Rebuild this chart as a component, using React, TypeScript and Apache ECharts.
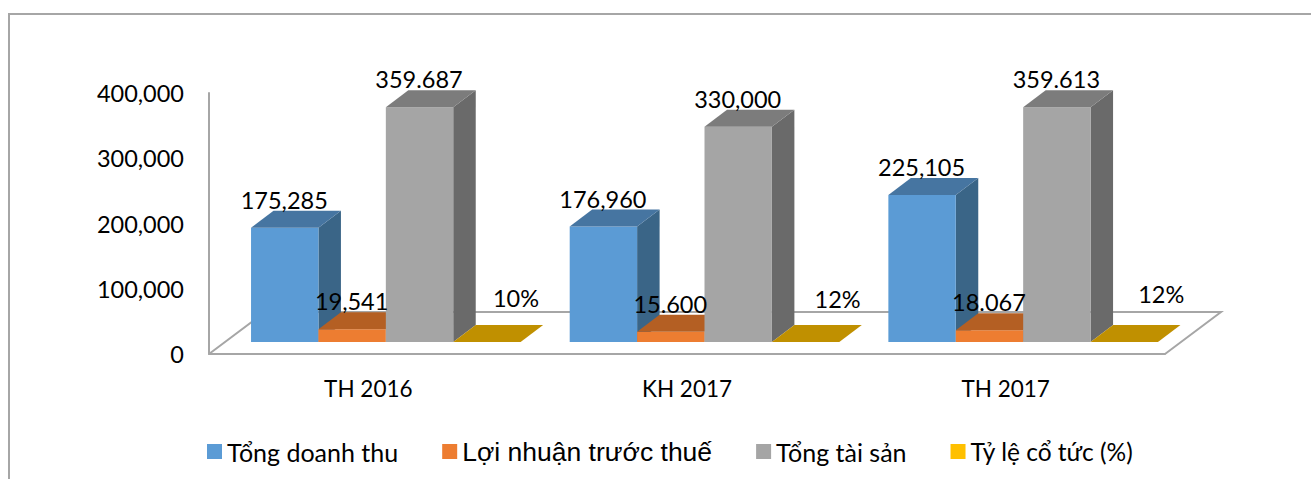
import React, { useEffect, useRef } from "react";
import * as echarts from "echarts";

const categories = ["TH 2016", "KH 2017", "TH 2017"];
const seriesNames = ["Tổng doanh thu", "Lợi nhuận trước thuế", "Tổng tài sản", "Tỷ lệ cổ tức (%)"];
const revenue = [175285, 176960, 225105];
const profit = [19541, 15600, 18067];
const assets = [359687, 330000, 359613];
const dividend = [10, 12, 12];
const revenueLabels = ["175,285", "176,960", "225,105"];
const profitLabels = ["19,541", "15.600", "18.067"];
const assetLabels = ["359.687", "330,000", "359.613"];
const dividendLabels = ["10%", "12%", "12%"];
const yTicks = [0, 100000, 200000, 300000, 400000];

const W = 1311, H = 479;
const GRID = { left: 209, top: 93, width: 956, height: 261 };
const DX = 22.5, DY = 17, BASE_LIFT = 12, GROUP_SHIFT = 17.5;
const BAR_RATIO = 0.2115;
const FONT = "Lato, Carlito, Calibri, sans-serif";
const faces = [
  { front: "#5B9BD5", top: "#4675A1", side: "#3A6587", legend: "#5B9BD5" },
  { front: "#ED7D31", top: "#B45F23", side: "#A5551F", legend: "#ED7D31" },
  { front: "#A5A5A5", top: "#7C7C7C", side: "#6A6A6A", legend: "#A5A5A5" },
  { front: "#C09000", top: "#C09000", side: "#8F6B00", legend: "#FFC000" },
];
const legendFonts = [
  { fontFamily: FONT, fontSize: 25 },
  { fontFamily: "Liberation Sans", fontSize: 26.5 },
  { fontFamily: FONT, fontSize: 25 },
  { fontFamily: FONT, fontSize: 24.5 },
];
const yellowNudge = [{ x: 29, y: 1 }, { x: 32, y: 2 }, { x: 37, y: -3 }];

function renderBar(seriesIdx: number, labels: string[]) {
  return (params: any, api: any) => {
    const cat = api.value(0);
    const val = api.value(1);
    const centerTop = api.coord([cat, val]);
    const zero = api.coord([cat, 0]);
    const catW = api.size([1, 0])[0];
    const bw = catW * BAR_RATIO;
    const x0 = centerTop[0] + GROUP_SHIFT + (seriesIdx - 2) * bw;
    const x1 = x0 + bw;
    const yB = zero[1] - BASE_LIFT;
    const yT = centerTop[1] - BASE_LIFT;
    const f = faces[seriesIdx];
    const children: any[] = [];
    if (yB - yT >= 1) {
      children.push({ type: "polygon", shape: { points: [[x1, yT], [x1 + DX, yT - DY], [x1 + DX, yB - DY], [x1, yB]] }, style: { fill: f.side } });
      children.push({ type: "rect", shape: { x: x0, y: yT, width: bw, height: yB - yT }, style: { fill: f.front } });
    }
    children.push({ type: "polygon", shape: { points: [[x0, yT], [x1, yT], [x1 + DX, yT - DY], [x0 + DX, yT - DY]] }, style: { fill: f.top } });
    const nudge = seriesIdx === 3 ? yellowNudge[params.dataIndex] : { x: 0, y: 0 };
    const isYellow = seriesIdx === 3;
    children.push({
      type: "text",
      z2: 100,
      style: {
        text: labels[params.dataIndex],
        x: (x0 + x1) / 2 + (isYellow ? nudge.x : -0.5),
        y: isYellow ? yT - DY - 28 + nudge.y : yT - DY - 11,
        align: "center",
        verticalAlign: "middle",
        fill: "#000",
        font: `23.5px ${FONT}`,
      },
    });
    return { type: "group", children };
  };
}

const allValues = [revenue, profit, assets, dividend];
const allLabels = [revenueLabels, profitLabels, assetLabels, dividendLabels];

export default function App() {
  const ref = useRef<HTMLDivElement>(null);
  useEffect(() => {
    document.body.style.margin = "0";
    const chart = echarts.init(ref.current!, null, { renderer: "svg" });
    const floorL = GRID.left, floorR = GRID.left + GRID.width, floorB = GRID.top + GRID.height;
    const option: any = {
      animation: false,
      backgroundColor: "#fff",
      grid: { ...GRID, containLabel: false },
      graphic: [
        { type: "polyline", shape: { points: [[9, H + 5], [9, 14], [W + 5, 14]] }, style: { stroke: "#A6A6A6", lineWidth: 2, fill: "none" }, silent: true },
        { type: "polyline", shape: { points: [[floorL, floorB], [floorL + 56, floorB - 42], [floorR + 56, floorB - 42], [floorR, floorB]] }, style: { stroke: "#A6A6A6", lineWidth: 2, fill: "none" }, silent: true },
      ],
      legend: {
        left: 202,
        top: 433,
        itemWidth: 15,
        itemHeight: 15,
        itemGap: 44,
        icon: "rect",
        data: seriesNames.map((name, i) => ({
          name,
          itemStyle: { color: faces[i].legend },
          textStyle: { ...legendFonts[i], color: "#000" },
        })),
      },
      xAxis: {
        type: "category",
        data: categories,
        axisLine: { show: true, lineStyle: { color: "#A6A6A6", width: 2 } },
        axisTick: { show: false },
        axisLabel: { fontFamily: FONT, fontSize: 22.5, color: "#000", margin: 23 },
      },
      yAxis: {
        type: "value",
        min: yTicks[0],
        max: yTicks[yTicks.length - 1],
        interval: yTicks[1] - yTicks[0],
        axisLine: { show: true, lineStyle: { color: "#A6A6A6", width: 2 } },
        axisTick: { show: false },
        splitLine: { show: false },
        axisLabel: {
          fontFamily: FONT,
          fontSize: 23.5,
          color: "#000",
          margin: 25,
          formatter: (v: number) => v.toLocaleString("en-US"),
        },
      },
      series: seriesNames.map((name, i) => ({
        name,
        type: "custom",
        itemStyle: { color: faces[i].legend },
        renderItem: renderBar(i, allLabels[i]),
        encode: { x: 0, y: 1 },
        data: allValues[i].map((v, c) => [c, v]),
      })),
    };
    chart.setOption(option);
    return () => chart.dispose();
  }, []);
  return <div ref={ref} style={{ width: W, height: H }} />;
}
